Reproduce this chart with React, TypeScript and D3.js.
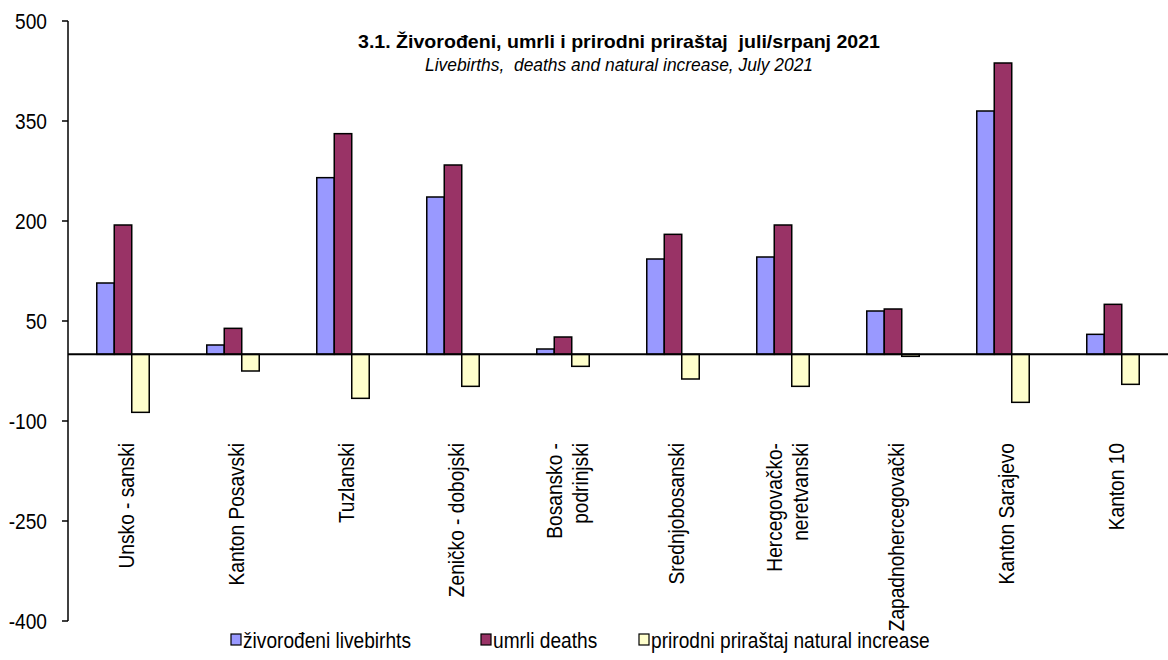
import React from "react";
import * as d3 from "d3";

const categories: string[] = [
  "Unsko - sanski",
  "Kanton Posavski",
  "Tuzlanski",
  "Zeničko - dobojski",
  "Bosansko -\npodrinjski",
  "Srednjobosanski",
  "Hercegovačko-\nneretvanski",
  "Zapadnohercegovački",
  "Kanton Sarajevo",
  "Kanton 10",
];

const livebirths: number[] = [107, 14, 265, 236, 8, 143, 146, 65, 365, 30];
const deaths: number[] = [194, 39, 331, 284, 26, 180, 194, 68, 437, 75];
const naturalIncrease: number[] = [-87, -25, -66, -48, -18, -37, -48, -3, -72, -45];

const seriesNames: string[] = [
  "živorođeni livebirhts",
  "umrli deaths",
  "prirodni priraštaj natural increase",
];
const seriesColors: string[] = ["#9999FF", "#993366", "#FFFFCC"];
const yTicks: number[] = [-400, -250, -100, 50, 200, 350, 500];

const titleText = "3.1. Živorođeni, umrli i prirodni priraštaj  juli/srpanj 2021";
const subtitleText = "Livebirths,  deaths and natural increase, July 2021";

const W = 1168;
const H = 660;
const FONT = "'Liberation Sans', Arial, sans-serif";
const FS = 22;
const SX = 0.87;

export default function App() {
  const series = [livebirths, deaths, naturalIncrease];
  const plotLeft = 68;
  const plotRight = 1168;
  const y = d3.scaleLinear().domain([-400, 500]).range([621, 21]);
  const x0 = d3.scaleBand<string>().domain(categories).range([plotLeft, plotRight]).padding(0);
  const groupW = x0.bandwidth() * 0.477;
  const x1 = d3
    .scaleBand<number>()
    .domain([0, 1, 2])
    .range([0, groupW])
    .padding(0);
  const y0 = y(0);

  const legendX = [231, 481, 639];

  return (
    <svg
      width={W}
      height={H}
      style={{ position: "absolute", left: 0, top: 0, background: "#fff" }}
      fontFamily={FONT}
    >
      <rect x={0} y={0} width={W} height={H} fill="#fff" />
      {/* Title */}
      <text
        x={619}
        y={47.5}
        textAnchor="middle"
        fontWeight="bold"
        fontSize={19}
        textLength={522}
        lengthAdjust="spacingAndGlyphs"
        style={{ whiteSpace: "pre" }}
      >
        {titleText}
      </text>
      <text
        x={619}
        y={71}
        textAnchor="middle"
        fontStyle="italic"
        fontSize={19}
        textLength={388}
        lengthAdjust="spacingAndGlyphs"
        style={{ whiteSpace: "pre" }}
      >
        {subtitleText}
      </text>

      {/* Bars */}
      {categories.map((c, i) => {
        const gx = (x0(c) as number) + (x0.bandwidth() - groupW) / 2;
        return (
          <g key={c}>
            {series.map((s, j) => {
              const v = s[i];
              const top = Math.min(y(v), y0);
              const h = Math.abs(y(v) - y0);
              return (
                <rect
                  key={j}
                  x={gx + (x1(j) as number)}
                  y={top}
                  width={x1.bandwidth()}
                  height={h}
                  fill={seriesColors[j]}
                  stroke="#000"
                  strokeWidth={1.5}
                />
              );
            })}
          </g>
        );
      })}

      {/* Y axis */}
      <line x1={plotLeft} x2={plotLeft} y1={y(500)} y2={y(-400)} stroke="#000" strokeWidth={1.5} />
      {yTicks.map((t) => (
        <g key={t}>
          <line x1={plotLeft - 6} x2={plotLeft} y1={y(t)} y2={y(t)} stroke="#000" strokeWidth={1.5} />
          <text
            transform={`translate(47,${y(t) + 7.9}) scale(${SX},1)`}
            textAnchor="end"
            fontSize={FS}
          >
            {t}
          </text>
        </g>
      ))}

      {/* Zero line */}
      <line x1={plotLeft} x2={plotRight} y1={y0} y2={y0} stroke="#000" strokeWidth={2} />

      {/* Category labels */}
      {categories.map((c) => {
        const cx = (x0(c) as number) + x0.bandwidth() / 2;
        const lines = c.split("\n");
        const offsets = lines.length === 1 ? [10.5] : [-1.5, 25];
        return (
          <text
            key={c}
            transform={`translate(${cx},443) rotate(-90) scale(${SX},1)`}
            textAnchor="end"
            fontSize={FS}
          >
            {lines.map((l, k) => (
              <tspan key={k} x={0} y={offsets[k]}>
                {l}
              </tspan>
            ))}
          </text>
        );
      })}

      {/* Legend */}
      {seriesNames.map((n, j) => (
        <g key={n}>
          <rect
            x={legendX[j]}
            y={634}
            width={10}
            height={11}
            fill={seriesColors[j]}
            stroke="#000"
            strokeWidth={1.2}
          />
          <text
            transform={`translate(${legendX[j] + 12},648) scale(${SX},1)`}
            fontSize={FS}
          >
            {n}
          </text>
        </g>
      ))}
    </svg>
  );
}
